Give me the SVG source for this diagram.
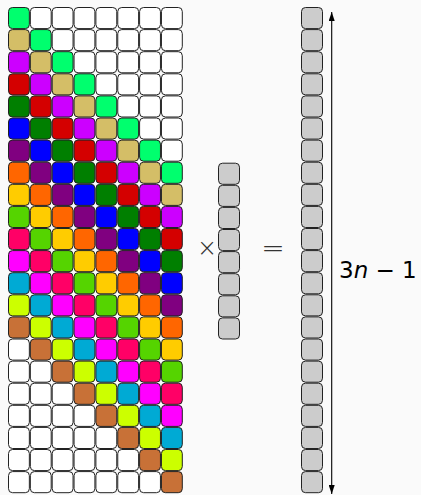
<svg xmlns="http://www.w3.org/2000/svg" width="421" height="495" viewBox="0 0 421 495">
<style>
.m rect{width:20.85px;height:21.1px;rx:4px;ry:4px;stroke:#222;stroke-width:1}
.v rect{width:21px;height:21.1px;rx:4px;ry:4px;stroke:#222;stroke-width:1;fill:#cccccc}
.w{fill:#ffffff}
.k0{fill:#00ff6e}.k1{fill:#d4be67}.k2{fill:#cc00ff}.k3{fill:#d40000}.k4{fill:#007f00}
.k5{fill:#0000ff}.k6{fill:#800080}.k7{fill:#ff6600}.k8{fill:#ffcc00}.k9{fill:#55d400}
.k10{fill:#ff0066}.k11{fill:#ff00ff}.k12{fill:#00aad4}.k13{fill:#ccff00}.k14{fill:#c87137}
.op{font-family:"DejaVu Sans",sans-serif;font-weight:200;fill:#333;text-anchor:middle}
.lab{font-family:"DejaVu Sans",sans-serif;font-size:23px;fill:#000}
</style>
<defs>
<marker id="ah" viewBox="0 0 9 6" refX="9" refY="3" markerWidth="9" markerHeight="6" markerUnits="userSpaceOnUse" orient="auto-start-reverse">
<path d="M0,0 L9,3 L0,6 z" fill="#000"/>
</marker>
</defs>
<rect width="421" height="495" fill="#fafafa"/>
<g id="matrix" class="m">
<g transform="translate(0,7.5)"><rect x="8.5" class="k0"/><rect x="30.35" class="w"/><rect x="52.2" class="w"/><rect x="74.05" class="w"/><rect x="95.9" class="w"/><rect x="117.75" class="w"/><rect x="139.6" class="w"/><rect x="161.45" class="w"/></g>
<g transform="translate(0,29.6)"><rect x="8.5" class="k1"/><rect x="30.35" class="k0"/><rect x="52.2" class="w"/><rect x="74.05" class="w"/><rect x="95.9" class="w"/><rect x="117.75" class="w"/><rect x="139.6" class="w"/><rect x="161.45" class="w"/></g>
<g transform="translate(0,51.7)"><rect x="8.5" class="k2"/><rect x="30.35" class="k1"/><rect x="52.2" class="k0"/><rect x="74.05" class="w"/><rect x="95.9" class="w"/><rect x="117.75" class="w"/><rect x="139.6" class="w"/><rect x="161.45" class="w"/></g>
<g transform="translate(0,73.8)"><rect x="8.5" class="k3"/><rect x="30.35" class="k2"/><rect x="52.2" class="k1"/><rect x="74.05" class="k0"/><rect x="95.9" class="w"/><rect x="117.75" class="w"/><rect x="139.6" class="w"/><rect x="161.45" class="w"/></g>
<g transform="translate(0,95.9)"><rect x="8.5" class="k4"/><rect x="30.35" class="k3"/><rect x="52.2" class="k2"/><rect x="74.05" class="k1"/><rect x="95.9" class="k0"/><rect x="117.75" class="w"/><rect x="139.6" class="w"/><rect x="161.45" class="w"/></g>
<g transform="translate(0,118)"><rect x="8.5" class="k5"/><rect x="30.35" class="k4"/><rect x="52.2" class="k3"/><rect x="74.05" class="k2"/><rect x="95.9" class="k1"/><rect x="117.75" class="k0"/><rect x="139.6" class="w"/><rect x="161.45" class="w"/></g>
<g transform="translate(0,140.1)"><rect x="8.5" class="k6"/><rect x="30.35" class="k5"/><rect x="52.2" class="k4"/><rect x="74.05" class="k3"/><rect x="95.9" class="k2"/><rect x="117.75" class="k1"/><rect x="139.6" class="k0"/><rect x="161.45" class="w"/></g>
<g transform="translate(0,162.2)"><rect x="8.5" class="k7"/><rect x="30.35" class="k6"/><rect x="52.2" class="k5"/><rect x="74.05" class="k4"/><rect x="95.9" class="k3"/><rect x="117.75" class="k2"/><rect x="139.6" class="k1"/><rect x="161.45" class="k0"/></g>
<g transform="translate(0,184.3)"><rect x="8.5" class="k8"/><rect x="30.35" class="k7"/><rect x="52.2" class="k6"/><rect x="74.05" class="k5"/><rect x="95.9" class="k4"/><rect x="117.75" class="k3"/><rect x="139.6" class="k2"/><rect x="161.45" class="k1"/></g>
<g transform="translate(0,206.4)"><rect x="8.5" class="k9"/><rect x="30.35" class="k8"/><rect x="52.2" class="k7"/><rect x="74.05" class="k6"/><rect x="95.9" class="k5"/><rect x="117.75" class="k4"/><rect x="139.6" class="k3"/><rect x="161.45" class="k2"/></g>
<g transform="translate(0,228.5)"><rect x="8.5" class="k10"/><rect x="30.35" class="k9"/><rect x="52.2" class="k8"/><rect x="74.05" class="k7"/><rect x="95.9" class="k6"/><rect x="117.75" class="k5"/><rect x="139.6" class="k4"/><rect x="161.45" class="k3"/></g>
<g transform="translate(0,250.6)"><rect x="8.5" class="k11"/><rect x="30.35" class="k10"/><rect x="52.2" class="k9"/><rect x="74.05" class="k8"/><rect x="95.9" class="k7"/><rect x="117.75" class="k6"/><rect x="139.6" class="k5"/><rect x="161.45" class="k4"/></g>
<g transform="translate(0,272.7)"><rect x="8.5" class="k12"/><rect x="30.35" class="k11"/><rect x="52.2" class="k10"/><rect x="74.05" class="k9"/><rect x="95.9" class="k8"/><rect x="117.75" class="k7"/><rect x="139.6" class="k6"/><rect x="161.45" class="k5"/></g>
<g transform="translate(0,294.8)"><rect x="8.5" class="k13"/><rect x="30.35" class="k12"/><rect x="52.2" class="k11"/><rect x="74.05" class="k10"/><rect x="95.9" class="k9"/><rect x="117.75" class="k8"/><rect x="139.6" class="k7"/><rect x="161.45" class="k6"/></g>
<g transform="translate(0,316.9)"><rect x="8.5" class="k14"/><rect x="30.35" class="k13"/><rect x="52.2" class="k12"/><rect x="74.05" class="k11"/><rect x="95.9" class="k10"/><rect x="117.75" class="k9"/><rect x="139.6" class="k8"/><rect x="161.45" class="k7"/></g>
<g transform="translate(0,339)"><rect x="8.5" class="w"/><rect x="30.35" class="k14"/><rect x="52.2" class="k13"/><rect x="74.05" class="k12"/><rect x="95.9" class="k11"/><rect x="117.75" class="k10"/><rect x="139.6" class="k9"/><rect x="161.45" class="k8"/></g>
<g transform="translate(0,361.1)"><rect x="8.5" class="w"/><rect x="30.35" class="w"/><rect x="52.2" class="k14"/><rect x="74.05" class="k13"/><rect x="95.9" class="k12"/><rect x="117.75" class="k11"/><rect x="139.6" class="k10"/><rect x="161.45" class="k9"/></g>
<g transform="translate(0,383.2)"><rect x="8.5" class="w"/><rect x="30.35" class="w"/><rect x="52.2" class="w"/><rect x="74.05" class="k14"/><rect x="95.9" class="k13"/><rect x="117.75" class="k12"/><rect x="139.6" class="k11"/><rect x="161.45" class="k10"/></g>
<g transform="translate(0,405.3)"><rect x="8.5" class="w"/><rect x="30.35" class="w"/><rect x="52.2" class="w"/><rect x="74.05" class="w"/><rect x="95.9" class="k14"/><rect x="117.75" class="k13"/><rect x="139.6" class="k12"/><rect x="161.45" class="k11"/></g>
<g transform="translate(0,427.4)"><rect x="8.5" class="w"/><rect x="30.35" class="w"/><rect x="52.2" class="w"/><rect x="74.05" class="w"/><rect x="95.9" class="w"/><rect x="117.75" class="k14"/><rect x="139.6" class="k13"/><rect x="161.45" class="k12"/></g>
<g transform="translate(0,449.5)"><rect x="8.5" class="w"/><rect x="30.35" class="w"/><rect x="52.2" class="w"/><rect x="74.05" class="w"/><rect x="95.9" class="w"/><rect x="117.75" class="w"/><rect x="139.6" class="k14"/><rect x="161.45" class="k13"/></g>
<g transform="translate(0,471.6)"><rect x="8.5" class="w"/><rect x="30.35" class="w"/><rect x="52.2" class="w"/><rect x="74.05" class="w"/><rect x="95.9" class="w"/><rect x="117.75" class="w"/><rect x="139.6" class="w"/><rect x="161.45" class="k14"/></g>
</g>
<g id="times"><text class="op" x="207" y="256" font-size="24">×</text></g>
<g id="vector" class="v">
<rect x="218.5" y="163.2"/><rect x="218.5" y="185.3"/><rect x="218.5" y="207.4"/><rect x="218.5" y="229.5"/><rect x="218.5" y="251.6"/><rect x="218.5" y="273.7"/><rect x="218.5" y="295.8"/><rect x="218.5" y="317.9"/>
</g>
<g id="equals"><text class="op" x="273" y="257" font-size="28">=</text></g>
<g id="result" class="v">
<rect x="301.5" y="7.5"/><rect x="301.5" y="29.6"/><rect x="301.5" y="51.7"/><rect x="301.5" y="73.8"/><rect x="301.5" y="95.9"/><rect x="301.5" y="118"/><rect x="301.5" y="140.1"/><rect x="301.5" y="162.2"/><rect x="301.5" y="184.3"/><rect x="301.5" y="206.4"/><rect x="301.5" y="228.5"/><rect x="301.5" y="250.6"/><rect x="301.5" y="272.7"/><rect x="301.5" y="294.8"/><rect x="301.5" y="316.9"/><rect x="301.5" y="339"/><rect x="301.5" y="361.1"/><rect x="301.5" y="383.2"/><rect x="301.5" y="405.3"/><rect x="301.5" y="427.4"/><rect x="301.5" y="449.5"/><rect x="301.5" y="471.6"/>
</g>
<g id="connectors">
<line x1="331.7" y1="12" x2="331.7" y2="494" stroke="#000" stroke-width="1.1" marker-start="url(#ah)" marker-end="url(#ah)"/>
</g>
<g id="label"><text class="lab" x="339" y="278">3<tspan font-style="italic">n</tspan> − 1</text></g>
</svg>
